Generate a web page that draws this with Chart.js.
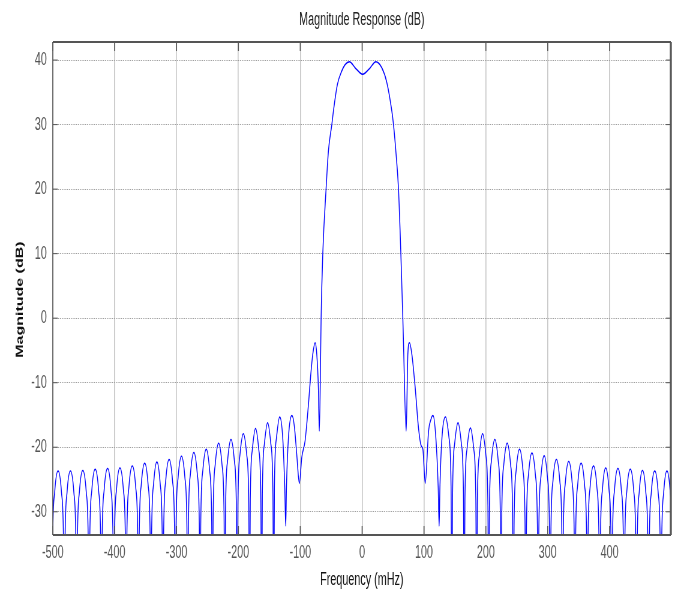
<!DOCTYPE html>
<html>
<head>
<meta charset="utf-8">
<script src="https://cdn.jsdelivr.net/npm/chart.js@4"></script>
<style>
  html, body { margin: 0; padding: 0; background: #fff; overflow: hidden; }
  /* the original figure is squeezed horizontally, so the chart is drawn wide and scaled */
  #wrap { width: 1133px; height: 593px; transform: scaleX(0.6); transform-origin: 0 0; }
</style>
</head>
<body>
<div id="wrap"><canvas id="chart" width="1133" height="593"></canvas></div>
<script>
const SX = 0.6;

const xTickValues = [-500, -400, -300, -200, -100, 0, 100, 200, 300, 400];
const yTickValues = [-30, -20, -10, 0, 10, 20, 30, 40];

// frequency (mHz) and magnitude (dB)
const leftFreq = [
  -501.5,-500.3,-497,-491.5,-486,-482.7,
  -481.5,-480.3,-477,-471.5,-466,-462.7,
  -461.5,-460.3,-457,-451.5,-446,-442.7,
  -441.5,-440.3,-437,-431.5,-426,-422.7,
  -421.5,-420.3,-417,-411.5,-406,-402.7,
  -401.5,-400.3,-397,-391.5,-386,-382.7,
  -381.5,-380.3,-377,-371.5,-366,-362.7,
  -361.5,-360.3,-357,-351.5,-346,-342.7,
  -341.5,-340.3,-337,-331.8,-326.5,-323.2,
  -322,-320.8,-317.5,-312,-306.5,-303.2,
  -302,-300.8,-297.5,-292,-286.5,-283.2,
  -282,-280.8,-277.5,-272,-266.5,-263.2,
  -262,-260.8,-257.5,-252,-246.5,-243.2,
  -242,-240.8,-237.5,-232,-226.5,-223.2,
  -222,-220.8,-217.5,-212,-206.5,-203.2,
  -202,-200.8,-197.5,-192,-186.5,-183.2,
  -182,-180.8,-177.5,-172.3,-167,-163.7,
  -162.5,-161.3,-158,-152.8,-147.5,-144.2,
  -143,-141.8,-138.5,-133.3,-128.3,-125,
  -123.5,-122.3,-119,-113.5,-109.5,-105.7
];
const leftDb = [
  -50,-34.7,-27.0,-23.7,-27.0,-34.7,
  -50,-34.7,-27.0,-23.7,-27.0,-34.7,
  -50,-34.6,-26.9,-23.6,-26.9,-34.6,
  -50,-34.4,-26.7,-23.4,-26.7,-34.4,
  -50,-34.3,-26.6,-23.3,-26.6,-34.3,
  -50,-34.2,-26.5,-23.2,-26.5,-34.2,
  -50,-33.9,-26.2,-22.9,-26.2,-33.9,
  -50,-33.5,-25.8,-22.5,-25.8,-33.5,
  -50,-33.3,-25.6,-22.3,-25.6,-33.3,
  -50,-32.9,-25.2,-21.9,-25.2,-32.9,
  -50,-32.4,-24.7,-21.4,-24.7,-32.4,
  -50,-31.8,-24.1,-20.8,-24.1,-31.8,
  -50,-31.3,-23.6,-20.3,-23.6,-31.3,
  -50,-30.4,-22.7,-19.4,-22.7,-30.4,
  -50,-29.8,-22.1,-18.8,-22.1,-29.8,
  -50,-28.9,-21.2,-17.9,-21.2,-28.9,
  -50,-28.1,-20.4,-17.1,-20.4,-28.1,
  -50,-27.2,-19.5,-16.2,-19.5,-27.2,
  -50,-26.3,-18.6,-15.3,-18.6,-26.5,
  -32.2,-26.1,-18.4,-15.1,-16.8,-21.1
];
const mainFreq = [
  -101.4,-97.6,-92.2,-86.8,-83,-79.8,-76,-73.3,-70.7,-69.2,-66.8,-66.3,-63.6,-58.3,-54.5,
  -49,-46.4,-40,-32.9,-27.5,-20.5,-11.3,-3.2,0.8,4.9,13,22.1,31.8,40,48,
  50.7,54.5,58.8,62.6,65.8,66.8,71.2,73.9,76.5,80.4,85.8,91.1,95.5,98.2,102
];
const mainDb = [
  -25.6,-21.6,-19.0,-13.4,-8.7,-5.6,-3.8,-5.6,-10.8,-17.5,-3.6,0,10,20,25.9,
  30,32.1,36.2,38.3,39.3,39.75,38.8,38.0,37.8,38.0,38.8,39.75,38.8,36.5,32.1,
  30,25.9,20,10,0,-3.6,-17.5,-5.6,-3.8,-5.6,-10.8,-17,-19.8,-20.3,-25.6
];
const rightFreq = [
  107.4,111.2,114.5,119,123,
  124.5,125.7,129,134.7,140.5,143.8,
  145,146.2,149.5,155,160.5,163.8,
  165,166.2,169.5,175,180.5,183.8,
  185,186.2,189.5,194.7,200,203.3,
  204.5,205.7,209,214.5,220,223.3,
  224.5,225.7,229,234.5,240,243.3,
  244.5,245.7,249,254.5,260,263.3,
  264.5,265.7,269,274.5,280,283.3,
  284.5,285.7,289,294.2,299.5,302.8,
  304,305.2,308.5,314,319.5,322.8,
  324,325.2,328.5,334,339.5,342.8,
  344,345.2,348.5,354,359.5,362.8,
  364,365.2,368.5,374,379.5,382.8,
  384,385.2,388.5,393.7,399,402.3,
  403.5,404.7,408,413.5,419,422.3,
  423.5,424.7,428,433.5,439,442.3,
  443.5,444.7,448,453.2,458.5,461.8,
  463,464.2,467.5,473,478.5,481.8,
  483,484.2,487.5,492.7,498,501.3,
  502.5
];
const rightDb = [
  -17.5,-15.7,-15.1,-18.3,-26.3,
  -32.2,-26.3,-18.6,-15.3,-18.6,-26.3,
  -50,-27.2,-19.5,-16.2,-19.5,-27.2,
  -50,-28.0,-20.3,-17.0,-20.3,-28.0,
  -50,-28.9,-21.2,-17.9,-21.2,-28.9,
  -50,-29.8,-22.1,-18.8,-22.1,-29.8,
  -50,-30.4,-22.7,-19.4,-22.7,-30.4,
  -50,-31.3,-23.6,-20.3,-23.6,-31.3,
  -50,-31.9,-24.2,-20.9,-24.2,-31.9,
  -50,-32.3,-24.6,-21.3,-24.6,-32.3,
  -50,-32.9,-25.2,-21.9,-25.2,-32.9,
  -50,-33.2,-25.5,-22.2,-25.5,-33.2,
  -50,-33.5,-25.8,-22.5,-25.8,-33.5,
  -50,-33.9,-26.2,-22.9,-26.2,-33.9,
  -50,-34.2,-26.5,-23.2,-26.5,-34.2,
  -50,-34.3,-26.6,-23.3,-26.6,-34.3,
  -50,-34.4,-26.7,-23.4,-26.7,-34.4,
  -50,-34.6,-26.9,-23.6,-26.9,-34.6,
  -50,-34.7,-27.0,-23.7,-27.0,-34.7,
  -50,-34.7,-27.0,-23.7,-27.0,-34.7,
  -50
];

const freqs = leftFreq.concat(mainFreq, rightFreq);
const mags = leftDb.concat(mainDb, rightDb);
const points = freqs.map((f, i) => ({ x: f, y: mags[i] }));

const fontFam = "'Liberation Sans', Arial, sans-serif";

// box round the axes with inward ticks, matlab style
const axesBox = {
  id: 'axesBox',
  afterDatasetsDraw(chart) {
    const { ctx, chartArea: a, scales: { x, y } } = chart;
    const line = (x1, y1, x2, y2) => { ctx.beginPath(); ctx.moveTo(x1, y1); ctx.lineTo(x2, y2); ctx.stroke(); };
    ctx.save();
    ctx.strokeStyle = '#555';
    ctx.lineWidth = 1 / SX;
    x.ticks.forEach(t => {
      const px = x.getPixelForValue(t.value);
      line(px, a.top, px, a.top + 9);
      line(px, a.bottom, px, a.bottom - 9);
    });
    ctx.lineWidth = 1;
    y.ticks.forEach(t => {
      const py = y.getPixelForValue(t.value);
      line(a.left, py, a.left + 5 / SX, py);
      line(a.right, py, a.right - 5 / SX, py);
    });
    ctx.lineWidth = 2;
    line(a.left, a.top, a.right, a.top);
    line(a.left, a.bottom, a.right, a.bottom);
    ctx.lineWidth = 2 / SX;
    line(a.right, a.top, a.right, a.bottom);
    ctx.lineWidth = 1 / SX;
    line(a.left, a.top, a.left, a.bottom);
    ctx.restore();
  }
};

new Chart(document.getElementById('chart'), {
  type: 'line',
  data: {
    datasets: [{
      data: points,
      borderColor: '#0000ff',
      borderWidth: 1.5,
      pointRadius: 0,
      fill: false,
      cubicInterpolationMode: 'monotone',
      clip: 0
    }]
  },
  options: {
    responsive: false,
    animation: false,
    devicePixelRatio: 1,
    layout: { padding: { left: 0, right: 15, top: 0, bottom: 0 } },
    plugins: {
      legend: { display: false },
      tooltip: { enabled: false },
      title: {
        display: true,
        text: 'Magnitude Response (dB)',
        fullSize: false,
        color: '#222',
        font: { family: fontFam, size: 18, weight: 'normal' },
        padding: { top: 9.2, bottom: 11.2 }
      }
    },
    scales: {
      x: {
        type: 'linear',
        min: -500,
        max: 499,
        afterBuildTicks: s => { s.ticks = xTickValues.map(v => ({ value: v })); },
        ticks: {
          autoSkip: false,
          maxRotation: 0,
          padding: 7,
          color: '#555',
          font: { family: fontFam, size: 18 }
        },
        grid: { color: '#c8c8c8', lineWidth: 1 / SX, drawTicks: false },
        border: { display: false },
        title: {
          display: true,
          text: 'Frequency (mHz)',
          color: '#111',
          font: { family: fontFam, size: 18 },
          padding: { top: 0, bottom: 2.5 }
        },
        afterFit: s => { s.height = 58; }
      },
      y: {
        min: -33.6,
        max: 42.8,
        afterBuildTicks: s => { s.ticks = yTickValues.map(v => ({ value: v })); },
        ticks: {
          padding: 10,
          color: '#555',
          font: { family: fontFam, size: 18 }
        },
        grid: { color: '#999', lineWidth: 1, drawTicks: false },
        border: { display: false, dash: [1.5, 1.5] },
        title: {
          display: true,
          // trailing spaces push the label down to where the original sits
          text: 'Magnitude (dB)     ',
          color: '#111',
          font: { family: fontFam, size: 16, weight: 'bold' },
          padding: { top: 23.7, bottom: 0 }
        },
        afterFit: s => { s.width = 88; }
      }
    }
  },
  plugins: [axesBox]
});
</script>
</body>
</html>
